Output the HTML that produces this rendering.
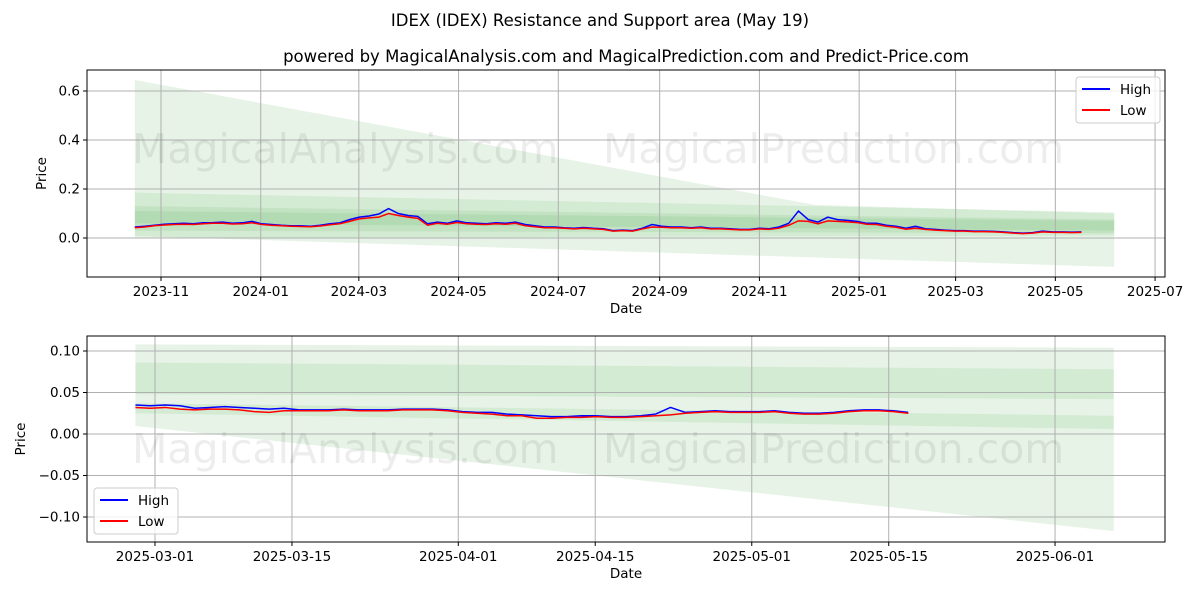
<!DOCTYPE html>
<html><head><meta charset="utf-8"><style>
body{margin:0;background:#fff;width:1200px;height:600px;overflow:hidden}
svg{font-family:"DejaVu Sans","Liberation Sans",sans-serif}
</style></head><body>
<svg id="c" width="1200" height="600" viewBox="0 0 1200 600">
<text x="600" y="26" text-anchor="middle" font-size="16.5">IDEX (IDEX) Resistance and Support area (May 19)</text>
<text x="626" y="62" text-anchor="middle" font-size="16.5">powered by MagicalAnalysis.com and MagicalPrediction.com and Predict-Price.com</text>
<g id="top"></g>
<g id="bot"></g>
</svg>
<script>
// ---- top chart data ----
const topStart = "2023-10-16", topEnd = "2025-05-17", topBandEnd = "2025-06-06";
const topHigh = [0.045,0.048,0.052,0.056,0.058,0.06,0.058,0.062,0.063,0.065,0.06,0.062,0.068,0.058,0.055,0.052,0.05,0.05,0.048,0.052,0.058,0.062,0.075,0.085,0.09,0.098,0.12,0.1,0.092,0.088,0.058,0.065,0.06,0.07,0.062,0.06,0.058,0.062,0.06,0.065,0.055,0.05,0.045,0.045,0.042,0.04,0.043,0.04,0.038,0.03,0.032,0.03,0.04,0.055,0.048,0.045,0.045,0.042,0.045,0.04,0.04,0.038,0.035,0.035,0.04,0.038,0.045,0.06,0.11,0.075,0.065,0.085,0.075,0.072,0.068,0.06,0.06,0.052,0.048,0.04,0.048,0.038,0.035,0.032,0.03,0.03,0.028,0.028,0.027,0.025,0.022,0.02,0.022,0.028,0.025,0.025,0.024,0.025];
const topLow  = [0.042,0.045,0.05,0.053,0.055,0.056,0.055,0.058,0.06,0.06,0.057,0.058,0.062,0.055,0.052,0.05,0.048,0.047,0.046,0.049,0.054,0.058,0.068,0.078,0.082,0.085,0.1,0.092,0.085,0.08,0.052,0.06,0.056,0.063,0.058,0.056,0.055,0.058,0.056,0.06,0.05,0.046,0.042,0.042,0.04,0.037,0.04,0.037,0.035,0.028,0.03,0.028,0.037,0.045,0.044,0.042,0.042,0.04,0.042,0.037,0.037,0.035,0.033,0.033,0.037,0.035,0.04,0.052,0.07,0.068,0.058,0.07,0.068,0.066,0.063,0.056,0.055,0.048,0.044,0.036,0.04,0.035,0.032,0.03,0.028,0.028,0.026,0.026,0.025,0.023,0.02,0.018,0.02,0.025,0.023,0.023,0.022,0.023];
const topOuterMidDate = "2024-12-05", topOuterMidValue = 0.135;
const topBands = [[0.645,0.10,0.008,-0.118],[0.185,0.105,0.0,0.01],[0.13,0.075,0.03,0.02],[0.11,0.07,0.06,0.03]];
const topYTicks = [0.6,0.4,0.2,0.0];
const topXTicks = ["2023-11","2024-01","2024-03","2024-05","2024-07","2024-09","2024-11","2025-01","2025-03","2025-05","2025-07"];
// ---- bottom chart data ----
const botStart = "2025-02-27", botEnd = "2025-05-17", botBandEnd = "2025-06-07";
const botHigh = [0.035,0.034,0.035,0.034,0.031,0.032,0.033,0.032,0.031,0.030,0.031,0.029,0.029,0.029,0.030,0.029,0.029,0.029,0.030,0.030,0.030,0.029,0.027,0.026,0.026,0.024,0.023,0.022,0.021,0.021,0.022,0.022,0.021,0.021,0.022,0.024,0.032,0.026,0.027,0.028,0.027];
const botHigh2 = [0.027,0.027,0.028,0.026,0.025,0.025,0.026,0.028,0.029,0.029,0.028,0.026];
const botLow = [0.032,0.031,0.032,0.030,0.029,0.030,0.030,0.029,0.027,0.026,0.028,0.028,0.028,0.028,0.029,0.028,0.028,0.028,0.029,0.029,0.029,0.028,0.026,0.025,0.024,0.022,0.022,0.019,0.019,0.020,0.020,0.021,0.020,0.020,0.021,0.022,0.023,0.025,0.026,0.027,0.026];
const botLow2 = [0.026,0.026,0.027,0.025,0.024,0.024,0.025,0.027,0.028,0.028,0.027,0.025];
const botBands = [[0.108,0.104,0.0096,-0.117],[0.086,0.078,0.048,0.042],[0.037,0.022,0.025,0.006]];
const botYTicks = [0.10,0.05,0.00,-0.05,-0.10];
const botXTicks = ["2025-03-01","2025-03-15","2025-04-01","2025-04-15","2025-05-01","2025-05-15","2025-06-01"];

const NS="http://www.w3.org/2000/svg";
function mk(p,t,a){const e=document.createElementNS(NS,t);for(const k in a)e.setAttribute(k,a[k]);p.appendChild(e);return e;}
const D=s=>{const p=s.split("-");return Date.UTC(+p[0],+p[1]-1,p[2]?+p[2]:1)/864e5;};

function panel(g,o){
  const {L,R,T,B,d0,d1,v0,v1}=o;
  const X=d=>L+(d-d0)/(d1-d0)*(R-L), Y=v=>T+(v1-v)/(v1-v0)*(B-T);
  const s=D(o.start), be=D(o.bandEnd);
  o.bands.forEach((b,i)=>{
    const mid=(i==0&&o.mid)?` ${X(D(o.mid[0]))},${Y(o.mid[1])}`:"";
    const p=mk(g,"polygon",{points:`${X(s)},${Y(b[0])}${mid} ${X(be)},${Y(b[1])} ${X(be)},${Y(b[3])} ${X(s)},${Y(b[2])}`,fill:"#2e9b2e","fill-opacity":i==0?0.12:0.1});
    
    });
  o.yt.forEach(v=>{const l=mk(g,"line",{x1:L,x2:R,y1:Y(v),y2:Y(v),stroke:"#b0b0b0","stroke-width":1});
    
    mk(g,"line",{x1:L-4,x2:L,y1:Y(v),y2:Y(v),stroke:"#000"});
    const t=mk(g,"text",{x:L-7,y:Y(v)+4.5,"text-anchor":"end","font-size":13.5});t.textContent=o.fmt(v);
    });
  o.xt.forEach(s2=>{const x=X(D(s2));const l=mk(g,"line",{x1:x,x2:x,y1:T,y2:B,stroke:"#b0b0b0"});
    
    mk(g,"line",{x1:x,x2:x,y1:B,y2:B+4,stroke:"#000"});
    const t=mk(g,"text",{x:x,y:B+19,"text-anchor":"middle","font-size":13.5});t.textContent=s2;
    });
  [["MagicalAnalysis.com",o.wx1],["MagicalPrediction.com",o.wx2]].forEach(w=>{const t=mk(g,"text",{x:w[1],y:o.wy,"font-size":41,fill:"#000","fill-opacity":0.07});t.textContent=w[0];
    });
  const e=D(o.end);
  const line=(arr,col,name)=>{const n=arr.length;const pts=arr.map((v,i)=>`${X(s+(e-s)*i/(n-1))},${Y(v)}`).join(" ");
    const p=mk(g,"polyline",{points:pts,fill:"none",stroke:col,"stroke-width":1.5});
    };
  line(o.high,"#0000ff","high-line");line(o.low,"#ff0000","low-line");
  const f=mk(g,"rect",{x:L,y:T,width:R-L,height:B-T,fill:"none",stroke:"#000","stroke-width":1});
  
  const xl=mk(g,"text",{x:(L+R)/2,y:B+36,"text-anchor":"middle","font-size":13.5});xl.textContent="Date";
  
  const yl=mk(g,"text",{x:0,y:0,"text-anchor":"middle","font-size":13.5,transform:`translate(${o.ylx},${(T+B)/2}) rotate(-90)`});yl.textContent="Price";
  
  const lg=mk(g,"g",{});
  mk(lg,"rect",{x:o.lx,y:o.ly,width:84,height:46,rx:3,fill:"#fff","fill-opacity":0.8,stroke:"#ccc"});
  [["High","#0000ff"],["Low","#ff0000"]].forEach((it,i)=>{const y=o.ly+12+i*21;
    mk(lg,"line",{x1:o.lx+6,x2:o.lx+34,y1:y,y2:y,stroke:it[1],"stroke-width":2});
    const t=mk(lg,"text",{x:o.lx+44,y:y+5,"font-size":13.5});t.textContent=it[0];
    });
}
panel(document.getElementById("top"),{L:87,R:1165,T:70,B:277,d0:D("2023-11-01")-(161-87)/1.635,d1:D("2023-11-01")+(1165-161)/1.635,
  v0:0-(277-238)/245,v1:(238-70)/245,start:topStart,end:topEnd,bandEnd:topBandEnd,bands:topBands,mid:[topOuterMidDate,topOuterMidValue],yt:topYTicks,xt:topXTicks,
  fmt:v=>v.toFixed(1),high:topHigh,low:topLow,wx1:132,wx2:603,wy:163,ylx:46,lx:1076,ly:77});
panel(document.getElementById("bot"),{L:87,R:1165,T:336,B:542,d0:D("2025-03-01")-(155-87)/9.783,d1:D("2025-03-01")+(1165-155)/9.783,
  v0:-(542-434)/830,v1:(434-336)/830,start:botStart,end:botEnd,bandEnd:botBandEnd,bands:botBands,yt:botYTicks,xt:botXTicks,
  fmt:v=>v.toFixed(2).replace("-","\u2212"),high:botHigh.concat(botHigh2),low:botLow.concat(botLow2),wx1:132,wx2:603,wy:463,ylx:25,lx:94,ly:488});
</script>
</body></html>
